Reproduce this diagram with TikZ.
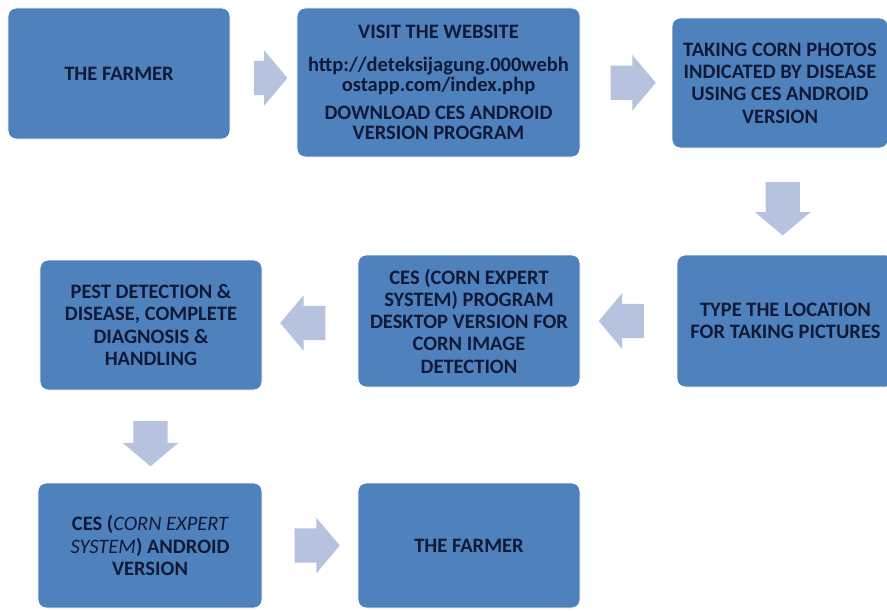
\documentclass[tikz,border=0pt]{standalone}
\usepackage{fontspec}
\setmainfont{Carlito}
\usetikzlibrary{shapes.arrows,calc}
\definecolor{boxblue}{RGB}{79,129,189}
\definecolor{arrowblue}{RGB}{182,194,222}
\definecolor{textnavy}{RGB}{16,26,56}
\tikzset{
  stepbox/.style={rectangle, rounded corners=0.24cm, fill=boxblue, draw=white,
    line width=0.8pt, text=textnavy, align=center, inner sep=2pt,
    font=\fontsize{17.5}{19}\selectfont\bfseries},
  blockarrow/.style={single arrow, fill=arrowblue, draw=none,
    inner xsep=0pt, inner ysep=0.51cm,
    minimum height=1.35cm, minimum width=1.65cm,
    single arrow head extend=0.315cm, single arrow tip angle=100},
  downarrow/.style={blockarrow, shape border rotate=270,
    inner xsep=0.51cm, inner ysep=0pt}
}
\begin{document}
\begin{tikzpicture}[x=0.03cm,y=-0.03cm]
\clip (0,0) rectangle (887,612);
\useasboundingbox (0,0) rectangle (887,612);

%Boxes
%Top
\node (b1) at (119,73.5) [stepbox, minimum width=6.66cm, minimum height=3.93cm] {THE FARMER};
\node (b2) at (438.5,82.5) [stepbox, minimum width=8.49cm, minimum height=4.47cm,
  font=\fontsize{17.5}{17}\selectfont\bfseries]
  {VISIT THE WEBSITE\\[11pt]http://deteksijagung.000webh\\ostapp.com/index.php\\[7pt]DOWNLOAD CES ANDROID\\VERSION PROGRAM};
\node (b3) at (780,83) [stepbox, minimum width=6.48cm, minimum height=3.9cm]
  {TAKING CORN PHOTOS\\INDICATED BY DISEASE\\USING CES ANDROID\\VERSION};
%Middle
\node (b4) at (785.5,321) [stepbox, minimum width=6.51cm, minimum height=3.96cm]
  {TYPE THE LOCATION\\FOR TAKING PICTURES};
\node (b5) at (469,321) [stepbox, minimum width=6.66cm, minimum height=3.96cm]
  {CES (CORN EXPERT\\SYSTEM) PROGRAM\\DESKTOP VERSION FOR\\CORN IMAGE\\DETECTION};
\node (b6) at (151,325) [stepbox, minimum width=6.66cm, minimum height=3.9cm]
  {PEST DETECTION \&\\DISEASE, COMPLETE\\DIAGNOSIS \&\\HANDLING};
%Bottom
\node (b7) at (150,545.5) [stepbox, minimum width=6.72cm, minimum height=3.75cm]
  {CES ({\mdseries\itshape CORN EXPERT}\\{\mdseries\itshape SYSTEM}) ANDROID\\VERSION};
\node (b8) at (469,545.5) [stepbox, minimum width=6.66cm, minimum height=3.75cm] {THE FARMER};

%Arrows
\node (a1) at ($(b1.east)!0.5!(b2.west)$) [blockarrow, minimum height=1.0cm] {};
\node (a2) at ($(b2.east)!0.5!(b3.west)$) [blockarrow] {};
\node (a3) at ($(b3.south)!0.5!(b4.north)$) [downarrow, minimum height=1.6cm] {};
\node (a4) at ($(b4.west)!0.5!(b5.east)$) [blockarrow, shape border rotate=180] {};
\node (a5) at ($(b5.west)!0.5!(b6.east)$) [blockarrow, shape border rotate=180] {};
\node (a6) at ($(b6.south)!0.5!(b7.north)$) [downarrow] {};
\node (a7) at ($(b7.east)!0.5!(b8.west)$) [blockarrow] {};

\end{tikzpicture}
\end{document}
